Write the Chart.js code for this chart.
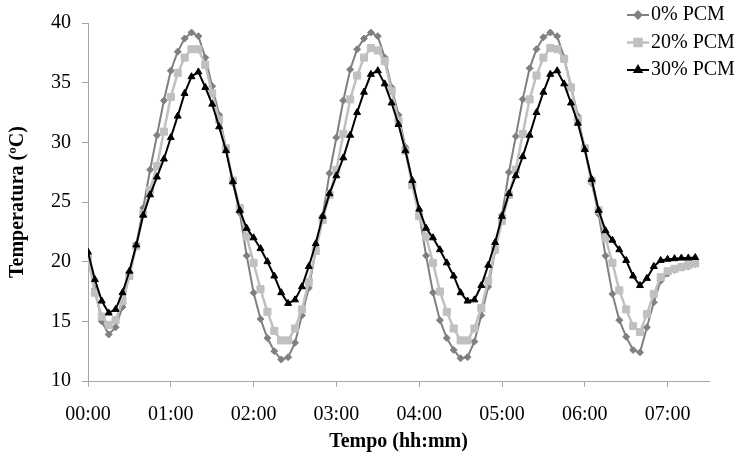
<!DOCTYPE html>
<html>
<head>
<meta charset="utf-8">
<title>Temperatura x Tempo</title>
<script src="https://cdn.jsdelivr.net/npm/chart.js"></script>
<style>
  body { margin: 0; background: #fff; }
</style>
</head>
<body>
<canvas id="grafico" width="738" height="456"></canvas>

<script>
// tempos de medição (a cada 5 min)
var tempos = [
  "00:00","00:05","00:10","00:15","00:20","00:25","00:30","00:35","00:40","00:45","00:50","00:55",
  "01:00","01:05","01:10","01:15","01:20","01:25","01:30","01:35","01:40","01:45","01:50","01:55",
  "02:00","02:05","02:10","02:15","02:20","02:25","02:30","02:35","02:40","02:45","02:50","02:55",
  "03:00","03:05","03:10","03:15","03:20","03:25","03:30","03:35","03:40","03:45","03:50","03:55",
  "04:00","04:05","04:10","04:15","04:20","04:25","04:30","04:35","04:40","04:45","04:50","04:55",
  "05:00","05:05","05:10","05:15","05:20","05:25","05:30","05:35","05:40","05:45","05:50","05:55",
  "06:00","06:05","06:10","06:15","06:20","06:25","06:30","06:35","06:40","06:45","06:50","06:55",
  "07:00","07:05","07:10","07:15","07:20"
];

// temperaturas (ºC)
var pcm0 = [
  20.6,17.7,15.0,13.9,14.5,16.2,19.1,21.4,24.5,27.7,
  30.6,33.5,36.0,37.6,38.7,39.2,38.9,37.1,34.7,32.3,
  29.5,26.6,24.1,20.5,17.4,15.2,13.6,12.5,11.8,12.0,
  13.2,15.5,17.8,20.9,23.8,27.4,30.4,33.5,36.1,37.8,
  38.7,39.2,38.9,37.1,34.6,32.3,29.6,26.6,24.0,20.5,
  17.4,15.1,13.6,12.6,11.9,12.0,13.3,15.5,17.9,20.9,
  23.9,27.5,30.5,33.6,36.2,37.8,38.8,39.2,38.9,37.1,
  34.7,32.2,29.4,26.6,24.0,20.5,17.3,15.1,13.7,12.6,
  12.4,14.5,16.6,18.4,19.0,19.3,19.5,19.6,19.8
];
var pcm20 = [
  20.3,17.4,15.4,14.7,15.1,16.7,18.8,21.3,24.0,26.0,
  28.0,30.9,33.8,35.8,37.1,37.8,37.8,36.5,34.1,31.9,
  29.5,26.8,24.5,22.1,19.9,17.7,15.8,14.2,13.4,13.4,
  14.4,16.0,18.3,20.9,23.5,25.6,27.7,30.7,33.6,35.6,
  37.1,37.9,37.7,36.8,34.3,31.8,29.3,26.4,23.8,22.1,
  19.9,17.5,15.8,14.4,13.4,13.4,14.4,16.1,18.4,21.0,
  23.4,25.6,27.7,30.7,33.6,35.6,37.1,37.9,37.8,37.0,
  34.6,31.9,29.5,26.8,24.3,22.0,19.9,17.6,16.0,14.6,
  14.1,15.6,17.3,18.7,19.2,19.4,19.55,19.7,19.85
];
var pcm30 = [
  20.8,18.5,16.7,15.7,16.0,17.4,19.2,21.4,23.9,25.6,
  27.1,28.6,30.4,32.2,34.1,35.5,35.9,34.6,33.2,31.3,
  29.3,26.7,24.3,22.8,22.0,21.1,20.0,18.8,17.4,16.5,
  16.8,17.9,19.6,21.5,23.8,25.7,27.2,28.7,30.6,32.5,
  34.2,35.7,36.0,34.9,33.3,31.5,29.3,26.8,24.4,22.8,
  22.0,21.0,19.9,18.8,17.4,16.7,16.8,18.0,19.7,21.6,
  23.8,25.7,27.2,28.8,30.6,32.5,34.2,35.7,36.0,34.9,
  33.3,31.6,29.4,26.9,24.3,22.6,21.8,21.0,20.1,18.8,
  18.0,18.6,19.6,20.1,20.2,20.25,20.3,20.3,20.35
];

var rotulosX = ["00:00","01:00","02:00","03:00","04:00","05:00","06:00","07:00"];
var rotulosY = [10, 15, 20, 25, 30, 35, 40];

var fonte = '"Liberation Serif", "Times New Roman", serif';
var cinzaEixo = '#a6a6a6';

function minutos(t) {
  var p = t.split(":");
  return Number(p[0]) * 60 + Number(p[1]);
}
function pontos(serie) {
  return serie.map(function(v, i) { return { x: minutos(tempos[i]), y: v }; });
}

// legenda desenhada à mão (linha + marcador, como no Excel)
var legenda = {
  id: 'legenda',
  afterDraw: function(chart) {
    var c = chart.ctx;
    c.save();
    c.font = '20px ' + fonte;
    c.textBaseline = 'middle';
    c.textAlign = 'left';
    chart.data.datasets.forEach(function(ds, k) {
      var y = 15 + k * 27.5;
      c.strokeStyle = ds.borderColor;
      c.lineWidth = ds.borderWidth;
      c.beginPath();
      c.moveTo(627, y);
      c.lineTo(649, y);
      c.stroke();
      c.fillStyle = ds.pointBackgroundColor;
      c.strokeStyle = ds.pointBorderColor;
      Chart.helpers.drawPoint(c, { pointStyle: ds.pointStyle, radius: ds.pointRadius, borderWidth: 1, rotation: 0 }, 638, y);
      c.fillStyle = '#000';
      c.fillText(ds.label, 651, y);
    });
    c.restore();
  }
};

var ctx = document.getElementById("grafico").getContext("2d");

var chart = new Chart(ctx, {
  type: "line",
  data: {
    datasets: [
      {
        label: "0% PCM",
        data: pontos(pcm0),
        borderColor: "#808080",
        backgroundColor: "#808080",
        pointBackgroundColor: "#808080",
        pointBorderColor: "#808080",
        borderWidth: 2,
        pointStyle: "rectRot",
        pointRadius: 3.5,
        pointBorderWidth: 1,
        order: 2
      },
      {
        label: "20% PCM",
        data: pontos(pcm20),
        borderColor: "#c0c0c0",
        backgroundColor: "#c0c0c0",
        pointBackgroundColor: "#c0c0c0",
        pointBorderColor: "#c0c0c0",
        borderWidth: 2.5,
        pointStyle: "rect",
        pointRadius: 5,
        pointBorderWidth: 1,
        order: 1
      },
      {
        label: "30% PCM",
        data: pontos(pcm30),
        borderColor: "#000000",
        backgroundColor: "#000000",
        pointBackgroundColor: "#000000",
        pointBorderColor: "#000000",
        borderWidth: 2,
        pointStyle: "triangle",
        pointRadius: 4,
        pointBorderWidth: 1,
        order: 0
      }
    ]
  },
  options: {
    responsive: false,
    animation: false,
    devicePixelRatio: 1,
    layout: { padding: { top: 20, right: 29, left: 0, bottom: 0 } },
    plugins: {
      legend: { display: false },
      tooltip: { enabled: false }
    },
    elements: { line: { tension: 0 } },
    scales: {
      x: {
        type: "linear",
        min: 0,
        max: 450,
        border: { color: cinzaEixo, width: 1 },
        grid: { drawOnChartArea: false, tickLength: 6, color: cinzaEixo },
        ticks: {
          stepSize: 60,
          includeBounds: false,
          autoSkip: false,
          maxRotation: 0,
          padding: 16,
          color: "#000",
          font: { family: fonte, size: 20 },
          callback: function(v) { return rotulosX[v / 60]; }
        },
        title: {
          display: true,
          text: "Tempo (hh:mm)",
          color: "#000",
          font: { family: fonte, size: 20, weight: "bold" },
          padding: 2
        },
        afterFit: function(s) { s.height = 75; }
      },
      y: {
        min: rotulosY[0],
        max: rotulosY[rotulosY.length - 1],
        border: { color: cinzaEixo, width: 1 },
        grid: { drawOnChartArea: false, tickLength: 6, color: cinzaEixo },
        ticks: {
          stepSize: 5,
          padding: 11,
          color: "#000",
          font: { family: fonte, size: 20 }
        },
        title: {
          display: true,
          text: "Temperatura (ºC)",
          color: "#000",
          font: { family: fonte, size: 20, weight: "bold" },
          padding: 6
        },
        afterFit: function(s) { s.width = 88; }
      }
    }
  },
  plugins: [legenda]
});
</script>
</body>
</html>
